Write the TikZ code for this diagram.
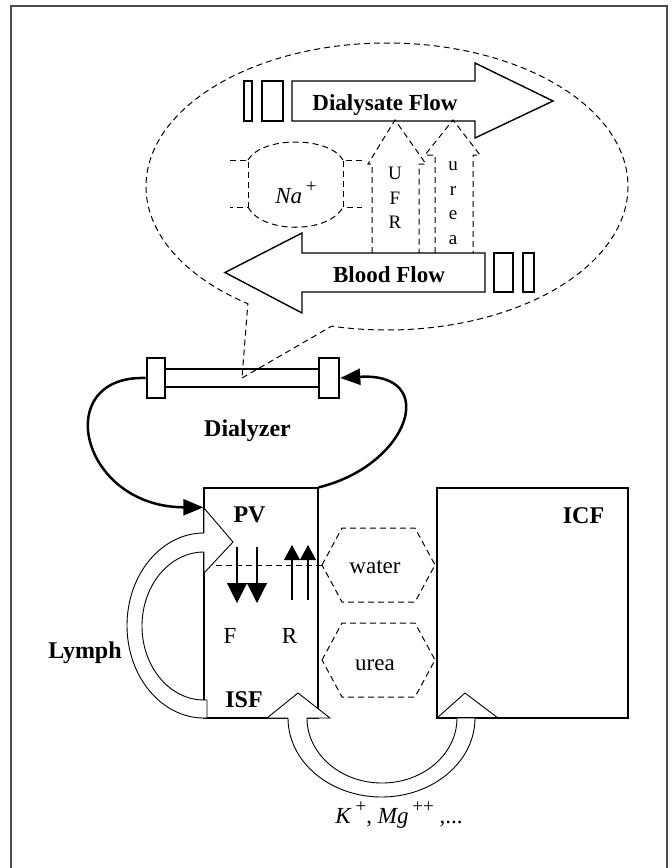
\documentclass[tikz,border=0pt]{standalone}
\usepackage{fontspec}
\setmainfont{Liberation Serif}
\usetikzlibrary{arrows.meta, positioning, shapes.callouts}
\tikzset{
  frameline/.style={draw=black!70, line width=2.5pt},
  dashline/.style={draw=black, line width=1pt, dash pattern=on 6pt off 4pt},
  compart/.style={rectangle, draw=black, line width=1.3pt, inner sep=0pt},
  pipe/.style={rectangle, draw=black, line width=2.6pt, fill=white, inner sep=0pt},
  slot/.style={rectangle, draw=black, line width=1.4pt, inner sep=0pt},
  blockarr/.style={draw=black, line width=1.4pt},
  hollowarr/.style={draw=black, line width=0.9pt, fill=white},
  loopline/.style={line width=2.5pt, -{Triangle[length=20pt, width=16pt]}},
  fluxdown/.style={line width=1.1pt, -{Triangle[length=20pt, width=20pt]}},
  fluxup/.style={line width=1.1pt, -{Triangle[length=15pt, width=16pt]}},
  lbl/.style={font=\fontsize{24}{28}\selectfont\bfseries, inner sep=0pt, anchor=base},
  txt/.style={font=\fontsize{23}{26}\selectfont, inner sep=0pt, anchor=base},
  stack/.style={font=\fontsize{19}{24.5}\selectfont, inner sep=0pt, align=center},
  pore/.pic={
    \draw[dashline] (-56.5,0) -- (-36.5,-37) -- (36.5,-37) -- (56.5,0)
      -- (36.5,37) -- (-36.5,37) -- cycle;
    \coordinate (-w) at (-56.5,0);
  }
}
\newcommand\ionsup[1]{\,\raisebox{0.45em}{\fontsize{19}{19}\selectfont #1}}

\begin{document}
\begin{tikzpicture}[x=1pt, y=-1pt]
  \useasboundingbox (0,0) rectangle (672,868);
  \draw[frameline] (11,880) -- (11,6) -- (667,6) -- (667,880);

  \node[pipe, minimum width=154, minimum height=18] (dlz) at (242,378) {};
  \node[pipe, minimum width=18, minimum height=40] (capl) at (156,378) {};
  \node[pipe, minimum width=20, minimum height=40] (capr) at (329,378) {};
  \node[lbl, below=31.5pt of dlz, xshift=5.5pt] (dlzlbl) {Dialyzer};

  \node[ellipse callout, dashline, minimum width=482, minimum height=287, inner sep=0pt,
        callout absolute pointer={(dlz.center)}, callout pointer arc=22] (bubble) at (387,186.5) {};

  \node[slot, minimum width=8, minimum height=40] (ds1) at (248,101) {};
  \node[slot, minimum width=21, minimum height=40] (ds2) at (272.5,101) {};
  \draw[blockarr] (292,81) -- (475,81) -- (475,63) -- (553,101) -- (475,138) -- (475,121) -- (292,121) -- cycle;
  \node[lbl, font=\fontsize{23}{26}\selectfont\bfseries] (dflow) at (385,110) {Dialysate Flow};

  \node[slot, minimum width=19, minimum height=39] (bs1) at (503.5,272.5) {};
  \node[slot, minimum width=11, minimum height=39] (bs2) at (528.5,272.5) {};
  \draw[blockarr] (485,253) -- (302,253) -- (302,233) -- (225,272.5) -- (302,313) -- (302,292) -- (485,292) -- cycle;
  \node[lbl, font=\fontsize{23}{26}\selectfont\bfseries] (bflow) at (389,282) {Blood Flow};

  \draw[dashline] (230,160) -- (248,160) -- (248,207) -- (230,207);
  \draw[dashline] (362,160) -- (343,160) -- (343,207) -- (362,207);
  \draw[dashline] (248,160) .. controls (262,136) and (329,136) .. (343,160);
  \draw[dashline] (248,207) .. controls (262,234) and (329,234) .. (343,207);
  \node[txt] (na) at (296,203) {\textit{Na}\ionsup{+}};

  \draw[dashline] (372,253) -- (372,164) -- (368,164) -- (395,120) -- (426,164) -- (419,164) -- (419,253);
  \node[stack] (ufr) at (395,198) {U\\F\\R};
  \draw[dashline] (435,253) -- (435,155) -- (425,155) -- (453,120) -- (480,155) -- (473,155) -- (473,253);
  \node[stack] (ureaflux) at (453,203) {u\\r\\e\\a};

  \node[compart, minimum width=114, minimum height=230] (isf) at (261,603) {};
  \node[compart, minimum width=191, minimum height=230] (icf) at (532.5,603) {};
  \coordinate (pvin) at ([yshift=-20pt]isf.north west);

  \draw[loopline] (capl.west) .. controls (50,375) and (80,507) .. (pvin);
  \draw[loopline] (isf.north east) .. controls (410,465) and (440,372) .. (capr.east);

  \draw[hollowarr] (207,700) -- (207,718) -- (204,718)
    arc[start angle=90, end angle=270, x radius=77, y radius=92.5]
    -- (204,508) -- (233,542) -- (204,573) -- (204,552)
    arc[start angle=270, end angle=90, x radius=62, y radius=74] -- cycle;
  \draw[hollowarr] (267,718) -- (298,693) -- (330,718) -- (307,718)
    arc[start angle=180, end angle=0, x radius=75, y radius=65] -- (475,718)
    arc[start angle=0, end angle=180, x radius=93.5, y radius=79] -- cycle;
  \draw[hollowarr, fill=none] (437,718) -- (465,693) -- (498,718);

  \pic (wp) at (378.5,565) {pore};
  \pic (up) at (378.5,660) {pore};
  \node[txt] (water) at (375,573) {water};
  \node[txt] (urea) at (375,670) {urea};
  \draw[dashline] (wp-w) -- ++(-110,0);

  \draw[fluxdown] (237,547) -- (237,603);
  \draw[fluxdown] (257,547) -- (257,603);
  \draw[fluxup] (292,600) -- (292,545);
  \draw[fluxup] (308,600) -- (308,545);

  \node[lbl] (pv) at (249.5,522) {PV};
  \node[lbl] (isflbl) at (244,707) {ISF};
  \node[lbl] (icflbl) at (583.5,523) {ICF};
  \node[lbl] (lymph) at (85,658) {Lymph};
  \node[txt] (flab) at (230,643) {F};
  \node[txt] (rlab) at (289.5,643) {R};
  \node[txt] (ions) at (399,823) {\textit{K}\ionsup{+}, \textit{Mg}\ionsup{++} ,...};
\end{tikzpicture}
\end{document}
